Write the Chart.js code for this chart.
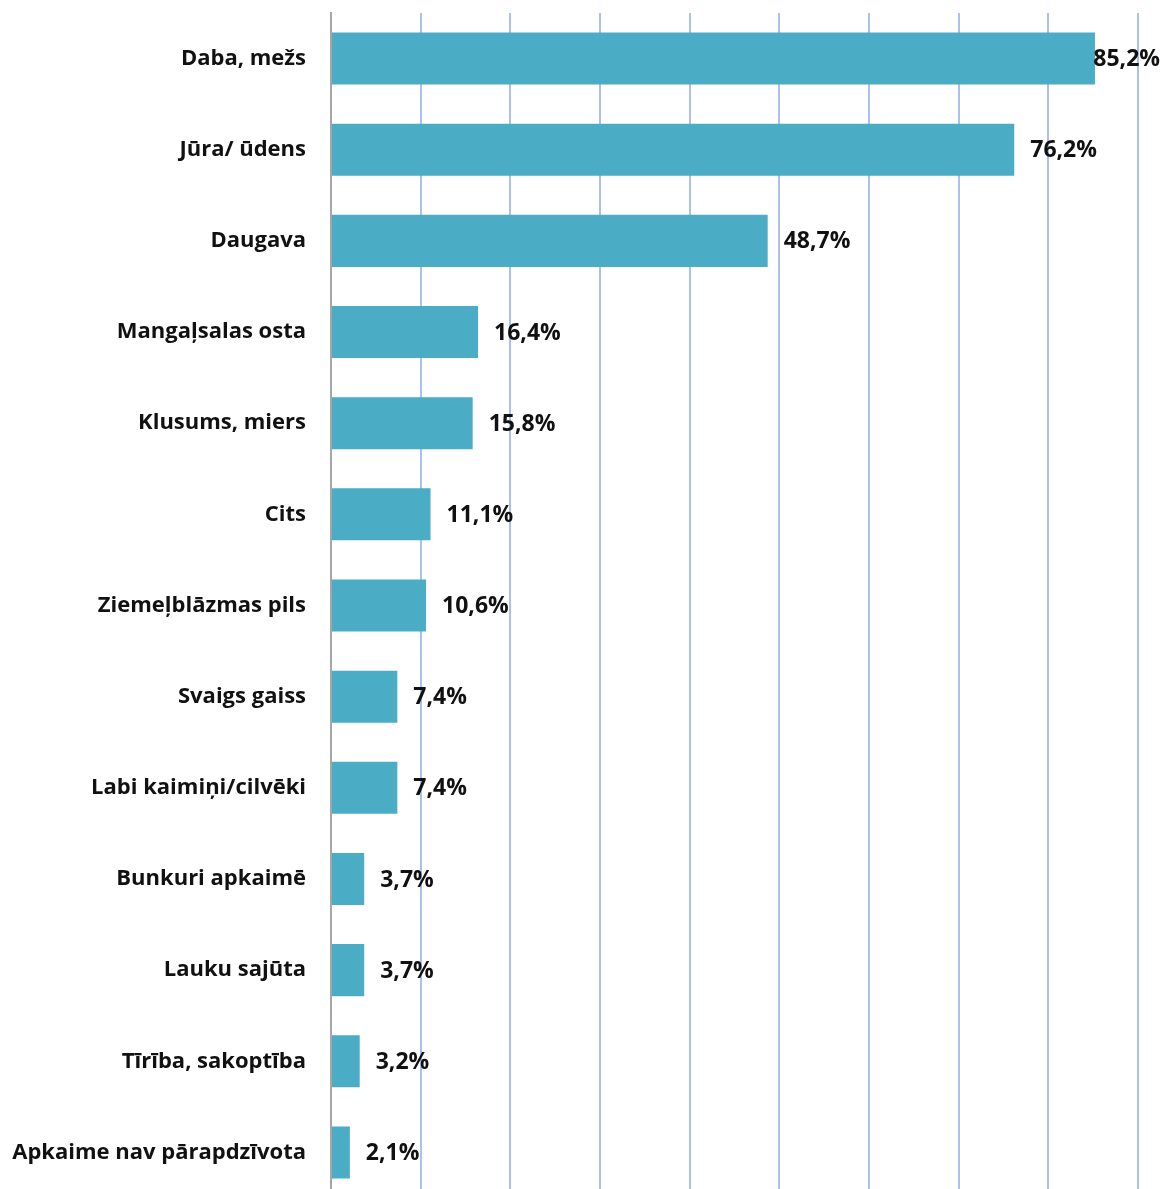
<!DOCTYPE html>
<html>
<head>
<meta charset="utf-8">
<script src="https://cdn.jsdelivr.net/npm/chart.js@4/dist/chart.umd.min.js"></script>
<style>
html,body{margin:0;padding:0;background:#fff;overflow:hidden;}
canvas{display:block;}
</style>
</head>
<body>
<canvas id="c" width="1163" height="1198"></canvas>
<script>
const categories = ["Daba, mežs","Jūra/ ūdens","Daugava","Mangaļsalas osta","Klusums, miers","Cits","Ziemeļblāzmas pils","Svaigs gaiss","Labi kaimiņi/cilvēki","Bunkuri apkaimē","Lauku sajūta","Tīrība, sakoptība","Apkaime nav pārapdzīvota"];
const values = [85.2,76.2,48.7,16.4,15.8,11.1,10.6,7.4,7.4,3.7,3.7,3.2,2.1];
const xTicks = [0,10,20,30,40,50,60,70,80,90];

const FONT = "'Open Sans', sans-serif";

const valueLabels = {
  id:'valueLabels',
  afterDatasetsDraw(chart){
    const ctx = chart.ctx;
    const meta = chart.getDatasetMeta(0);
    ctx.save();
    ctx.font = "bold 23px " + FONT;
    ctx.fillStyle = "#111";
    ctx.textBaseline = "middle";
    ctx.textAlign = "left";
    meta.data.forEach((bar,i)=>{
      const txt = values[i].toFixed(1).replace('.',',') + '%';
      const w = ctx.measureText(txt).width;
      let x = bar.x + 16;
      x = Math.min(x, chart.width - w - 3);
      ctx.fillText(txt, x, bar.y + 1);
    });
    ctx.restore();
  }
};

new Chart(document.getElementById('c'), {
  type:'bar',
  data:{
    labels: categories,
    datasets:[{
      data: values,
      backgroundColor:'#4bacc6',
      borderWidth:0,
      barPercentage:1,
      categoryPercentage:0.571
    }]
  },
  options:{
    indexAxis:'y',
    responsive:false,
    animation:false,
    layout:{padding:{top:13,right:25,left:0,bottom:0}},
    plugins:{legend:{display:false},tooltip:{enabled:false}},
    scales:{
      x:{
        min:0,max:90,
        afterBuildTicks(axis){ axis.ticks = xTicks.map(v=>({value:v})); },
        afterFit(axis){ axis.height = 0; axis.paddingLeft = 0; axis.paddingRight = 0; },
        ticks:{display:false},
        grid:{
          color:(c)=> c.tick && c.tick.value===0 ? 'rgba(0,0,0,0)' : '#a9c1ec',
          lineWidth:2,
          drawTicks:false
        },
        border:{display:false}
      },
      y:{
        afterFit(axis){ axis.width = 331; axis.paddingTop = 0; axis.paddingBottom = 0; },
        grid:{display:false, drawTicks:false},
        border:{display:true,color:'#a6a6a6',width:2},
        ticks:{
          padding:25,
          color:'#111',
          font:{family:FONT, size:22, weight:'bold'}
        }
      }
    }
  },
  plugins:[valueLabels]
});
</script>
</body>
</html>
